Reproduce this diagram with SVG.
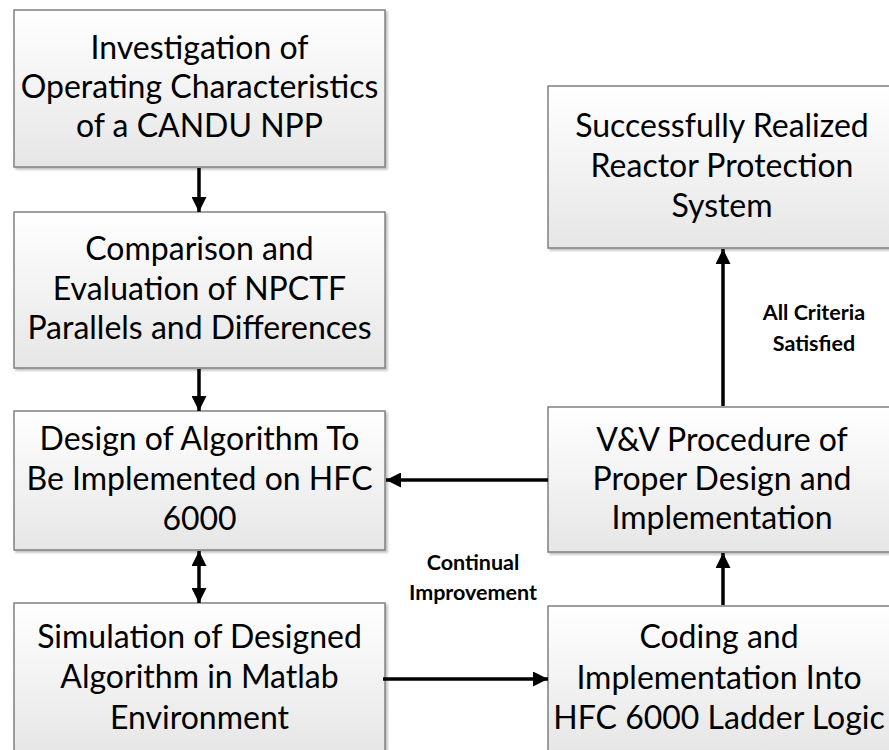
<svg xmlns="http://www.w3.org/2000/svg" width="889" height="750" viewBox="0 0 889 750">
<defs>
<linearGradient id="g" x1="0" y1="0" x2="0" y2="1">
<stop offset="0" stop-color="#ffffff"/>
<stop offset="1" stop-color="#e6e6e6"/>
</linearGradient>
<marker id="ah" markerWidth="15" markerHeight="15" viewBox="0 0 15 15" refX="15" refY="7.5" orient="auto-start-reverse" markerUnits="userSpaceOnUse">
<path d="M0,0 L15,7.5 L0,15 Z" fill="#000"/>
</marker>
<filter id="sh" x="-5%" y="-5%" width="110%" height="110%">
<feDropShadow dx="2" dy="2" stdDeviation="1" flood-color="#000" flood-opacity="0.25"/>
</filter>
</defs>
<style>
.box{fill:url(#g);stroke:#808080;stroke-width:1.5;filter:url(#sh)}
.t{font-family:Lato,"Liberation Sans",sans-serif;font-size:32px;fill:#000;text-anchor:middle}
.lb{font-family:Lato,"Liberation Sans",sans-serif;font-size:21.5px;font-weight:bold;fill:#000;text-anchor:middle}
.c{stroke:#000;stroke-width:3.5;fill:none}
</style>
<rect width="889" height="750" fill="#fff"/>
<g id="n1"><rect class="box" x="14" y="10" width="371" height="157"/>
<text class="t" x="199.5" y="59">Investigation of</text>
<text class="t" x="199.5" y="98">Operating Characteristics</text>
<text class="t" x="199.5" y="137">of a CANDU NPP</text></g>
<g id="n2"><rect class="box" x="14" y="212" width="371" height="156"/>
<text class="t" x="199.5" y="260">Comparison and</text>
<text class="t" x="199.5" y="300">Evaluation of NPCTF</text>
<text class="t" x="199.5" y="339">Parallels and Differences</text></g>
<g id="n3"><rect class="box" x="14" y="411" width="371" height="139"/>
<text class="t" x="199.5" y="450">Design of Algorithm To</text>
<text class="t" x="199.5" y="490">Be Implemented on HFC</text>
<text class="t" x="199.5" y="530">6000</text></g>
<g id="n4"><rect class="box" x="14" y="603" width="371" height="150"/>
<text class="t" x="199.5" y="648">Simulation of Designed</text>
<text class="t" x="199.5" y="688">Algorithm in Matlab</text>
<text class="t" x="199.5" y="729">Environment</text></g>
<g id="n5"><rect class="box" x="548" y="86" width="350" height="162"/>
<text class="t" x="722" y="137">Successfully Realized</text>
<text class="t" x="722" y="177">Reactor Protection</text>
<text class="t" x="722" y="217">System</text></g>
<g id="n6"><rect class="box" x="548" y="407" width="350" height="145"/>
<text class="t" x="722" y="451">V&amp;V Procedure of</text>
<text class="t" x="722" y="490">Proper Design and</text>
<text class="t" x="722" y="529">Implementation</text></g>
<g id="n7"><rect class="box" x="548" y="606" width="350" height="147"/>
<text class="t" x="719" y="648">Coding and</text>
<text class="t" x="719" y="689">Implementation Into</text>
<text class="t" x="719" y="729">HFC 6000 Ladder Logic</text></g>
<g id="connectors">
<line class="c" x1="199" y1="168" x2="199" y2="212" marker-end="url(#ah)"/>
<line class="c" x1="199" y1="369" x2="199" y2="411" marker-end="url(#ah)"/>
<line class="c" x1="199" y1="551" x2="199" y2="603" marker-start="url(#ah)" marker-end="url(#ah)"/>
<line class="c" x1="548" y1="480" x2="386" y2="480" marker-end="url(#ah)"/>
<line class="c" x1="383" y1="679" x2="548" y2="679" marker-end="url(#ah)"/>
<line class="c" x1="723" y1="605" x2="723" y2="553" marker-end="url(#ah)"/>
<line class="c" x1="723" y1="406" x2="723" y2="249" marker-end="url(#ah)"/>
</g>
<g id="labels">
<text class="lb" x="814" y="320">All Criteria</text>
<text class="lb" x="814" y="351">Satisfied</text>
<text class="lb" x="473" y="570">Continual</text>
<text class="lb" x="473" y="600">Improvement</text>
</g>
</svg>
